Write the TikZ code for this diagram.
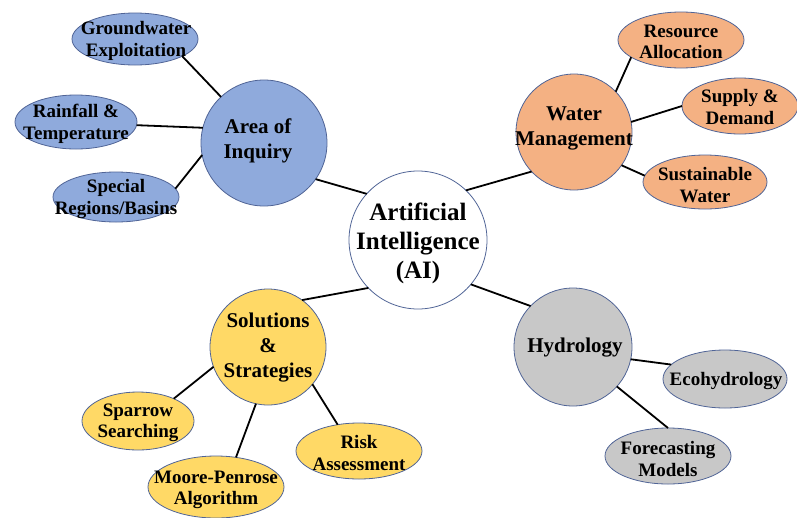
\documentclass[tikz,border=0pt]{standalone}
\usepackage{fontspec}
\setmainfont{Liberation Serif}
\usetikzlibrary{shapes.geometric}
\definecolor{cblue}{RGB}{143,170,220}
\definecolor{corange}{RGB}{244,177,131}
\definecolor{cyellow}{RGB}{255,217,102}
\definecolor{cgray}{RGB}{200,200,200}
\definecolor{cedge}{RGB}{80,100,150}
\tikzset{
  base/.style={draw=cedge, line width=0.8pt, outer sep=0pt, inner sep=0pt},
  hub/.style={base, circle, minimum size=#1},
  leaf/.style 2 args={base, ellipse, minimum width=#1, minimum height=#2},
  conn/.style={line width=1.8pt, black},
  htext/.style={align=center, font=\fontsize{21}{25}\selectfont\bfseries, inner sep=0pt},
  ltext/.style={align=center, font=\fontsize{19}{21.5}\selectfont\bfseries, inner sep=0pt},
  aitext/.style={align=center, font=\fontsize{25}{29}\selectfont\bfseries, inner sep=0pt}
}
\begin{document}
\begin{tikzpicture}[x=1pt,y=-1pt]
\useasboundingbox (0,0) rectangle (797,517);
% hubs
\node[hub=138, fill=white] (ai) at (418,240) {};
\node[hub=126, fill=cblue] (area) at (264,143) {};
\node[hub=116, fill=corange] (water) at (574,132) {};
\node[hub=116, fill=cyellow] (sol) at (268,347) {};
\node[hub=118, fill=cgray] (hyd) at (573,347) {};
% leaves
\node[leaf={126}{52}, fill=cblue] (gw) at (135,39) {};
\node[leaf={122}{54}, fill=cblue] (rain) at (76,122) {};
\node[leaf={126}{50}, fill=cblue] (spec) at (116,197) {};
\node[leaf={126}{56}, fill=corange] (res) at (681,40) {};
\node[leaf={116}{56}, fill=corange] (sup) at (740,106) {};
\node[leaf={124}{54}, fill=corange] (sus) at (705,182) {};
\node[leaf={112}{58}, fill=cyellow] (spa) at (138,421) {};
\node[leaf={136}{62}, fill=cyellow] (moo) at (216,487) {};
\node[leaf={126}{56}, fill=cyellow] (risk) at (359,451) {};
\node[leaf={124}{58}, fill=cgray] (eco) at (725,379) {};
\node[leaf={126}{56}, fill=cgray] (fore) at (668,456) {};
% connectors
\draw[conn] (area.-35) -- (ai.138);
\draw[conn] (ai.46) -- (water.223);
\draw[conn] (ai.224) -- (sol.54);
\draw[conn] (ai.-40) -- (hyd.136);
\draw[conn] (gw.-20) -- (area.133);
\draw[conn] (rain.-3) -- (area.166);
\draw[conn] (spec.8) -- (area.191);
\draw[conn] (water.44) -- (res.199);
\draw[conn] (water.10) -- (sup.180);
\draw[conn] (water.-35) -- (sus.174);
\draw[conn] (sol.200) -- (spa.32);
\draw[conn] (sol.258) -- (moo.56);
\draw[conn] (sol.-40) -- (risk.129);
\draw[conn] (hyd.-12) -- (eco.165);
\draw[conn] (hyd.-42) -- (fore.90);
% texts
\node[aitext] (ait) at (418,243) {Artificial\\Intelligence\\(AI)};
\node[htext] (areat) at (258,141) {Area of\\Inquiry};
\node[htext] (watert) at (574,128) {Water\\Management};
\node[htext] (solt) at (268,348) {Solutions\\\&\\Strategies};
\node[htext] (hydt) at (575,348) {Hydrology};
\node[ltext] (gwt) at (136,41) {Groundwater\\Exploitation};
\node[ltext] (raint) at (76,124) {Rainfall \&\\Temperature};
\node[ltext] (spect) at (116,199) {Special\\Regions/Basins};
\node[ltext] (rest) at (681,42) {Resource\\Allocation};
\node[ltext] (supt) at (740,107) {Supply \&\\Demand};
\node[ltext] (sust) at (705,185) {Sustainable\\Water};
\node[ltext] (spat) at (138,423) {Sparrow\\Searching};
\node[ltext] (moot) at (216,490) {Moore-Penrose\\Algorithm};
\node[ltext] (riskt) at (359,453) {Risk\\Assessment};
\node[ltext] (ecot) at (726,381) {Ecohydrology};
\node[ltext] (foret) at (668,459) {Forecasting\\Models};
\end{tikzpicture}
\end{document}
